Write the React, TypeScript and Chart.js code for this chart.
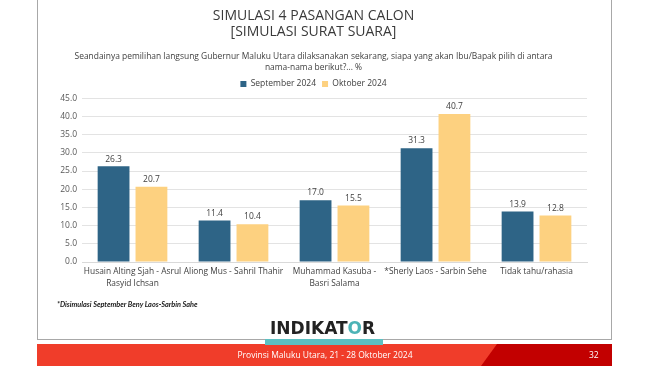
import React, { useEffect, useRef } from "react";
import { Chart, registerables } from "chart.js";

Chart.register(...registerables);

const categories: (string | string[])[] = [
  ["Husain Alting Sjah - Asrul", "Rasyid Ichsan"],
  "Aliong Mus - Sahril Thahir",
  ["Muhammad Kasuba -", "Basri Salama"],
  "*Sherly Laos - Sarbin Sehe",
  "Tidak tahu/rahasia",
];
const september = [26.3, 11.4, 17.0, 31.3, 13.9];
const oktober = [20.7, 10.4, 15.5, 40.7, 12.8];
const seriesNames = ["September 2024", "Oktober 2024"];
const titleLines = ["SIMULASI 4 PASANGAN CALON", "[SIMULASI SURAT SUARA]"];
const subtitleLines = [
  "Seandainya pemilihan langsung Gubernur Maluku Utara dilaksanakan sekarang, siapa yang akan Ibu/Bapak pilih di antara",
  "nama-nama berikut?... %",
];
const yMax = 45;
const yStep = 5;
const footnote = "*Disimulasi September Beny Laos-Sarbin Sahe";
const footerText = "Provinsi Maluku Utara, 21 - 28 Oktober 2024";
const pageNumber = "32";

const FONT = "'Open Sans', sans-serif";

const valueLabels = {
  id: "valueLabels",
  afterDatasetsDraw(chart: any) {
    const ctx = chart.ctx;
    ctx.save();
    ctx.font = `8.5px ${FONT}`;
    ctx.fillStyle = "#404040";
    ctx.textAlign = "center";
    ctx.textBaseline = "bottom";
    chart.data.datasets.forEach((ds: any, i: number) => {
      const meta = chart.getDatasetMeta(i);
      meta.data.forEach((bar: any, j: number) => {
        ctx.fillText(Number(ds.data[j]).toFixed(1), bar.x, bar.y - 3);
      });
    });
    ctx.restore();
  },
};

export default function App() {
  const ref = useRef<HTMLCanvasElement>(null);

  useEffect(() => {
    document.body.style.margin = "0";
    const chart = new Chart(ref.current!, {
      type: "bar",
      data: {
        labels: categories,
        datasets: [
          {
            label: seriesNames[0],
            data: september,
            backgroundColor: "#2E6486",
            categoryPercentage: 0.75,
            barPercentage: 0.84,
          },
          {
            label: seriesNames[1],
            data: oktober,
            backgroundColor: "#FDD180",
            categoryPercentage: 0.75,
            barPercentage: 0.84,
          },
        ],
      },
      options: {
        responsive: false,
        animation: false,
        layout: { padding: { left: 40, right: 63, top: 0, bottom: 72 } },
        plugins: {
          title: {
            display: true,
            text: titleLines,
            color: "#3A3A3A",
            font: { family: FONT, size: 14, weight: "normal", lineHeight: 1.15 },
            padding: { top: 8, bottom: 6 },
          },
          subtitle: {
            display: true,
            text: subtitleLines,
            color: "#404040",
            font: { family: FONT, size: 8.45, lineHeight: 1.38 },
            padding: { top: 4.3, bottom: 0 },
          },
          legend: {
            display: true,
            labels: {
              boxWidth: 6,
              boxHeight: 6,
              padding: 6,
              color: "#404040",
              font: { family: FONT, size: 8.5 },
            },
          },
          tooltip: { enabled: false },
        },
        scales: {
          x: {
            grid: { display: false, drawTicks: false },
            border: { color: "#D9D9D9" },
            ticks: {
              color: "#404040",
              font: { family: FONT, size: 8.4, lineHeight: 1.4 },
              maxRotation: 0,
              autoSkip: false,
              padding: 4,
            },
            afterFit: (s: any) => {
              s.height = 32;
            },
          },
          y: {
            min: 0,
            max: yMax,
            grid: { color: "#E3E3E3", drawTicks: false },
            border: { display: false },
            ticks: {
              stepSize: yStep,
              color: "#595959",
              font: { family: FONT, size: 8.5 },
              padding: 5,
              callback: (v: any) => Number(v).toFixed(1),
            },
            afterFit: (s: any) => {
              s.width = 42;
            },
          },
        },
      },
      plugins: [valueLabels],
    });
    return () => chart.destroy();
  }, []);

  return (
    <div
      style={{
        position: "fixed",
        left: 0,
        top: 0,
        width: 650,
        height: 366,
        background: "#fff",
        overflow: "hidden",
        fontFamily: FONT,
      }}
    >
      {/* frame */}
      <div style={{ position: "absolute", left: 37, top: 0, width: 1, height: 340, background: "#A8A8A8" }} />
      <div style={{ position: "absolute", left: 611, top: 0, width: 1, height: 340, background: "#A8A8A8" }} />
      <div style={{ position: "absolute", left: 37, top: 339, width: 575, height: 1, background: "#A8A8A8" }} />
      <canvas ref={ref} width={650} height={366} style={{ position: "absolute", left: 0, top: 0 }} />
      <div
        style={{
          position: "absolute",
          left: 57,
          top: 299,
          fontFamily: "Lato, sans-serif",
          fontSize: 7.3,
          fontWeight: 700,
          fontStyle: "italic",
          color: "#1A1A1A",
          whiteSpace: "nowrap",
          lineHeight: "12px",
        }}
      >
        {footnote}
      </div>
      {/* footer */}
      <div style={{ position: "absolute", left: 37, top: 344, width: 575, height: 22, background: "#F03D2A" }} />
      <div
        style={{
          position: "absolute",
          left: 37,
          top: 344,
          width: 575,
          height: 22,
          background: "#C20000",
          clipPath: "polygon(460px 0, 575px 0, 575px 22px, 444px 22px)",
        }}
      />
      <div
        style={{
          position: "absolute",
          left: 0,
          width: 650,
          top: 348,
          textAlign: "center",
          color: "#fff",
          fontSize: 8.5,
          lineHeight: "14px",
          whiteSpace: "nowrap",
        }}
      >
        {footerText}
      </div>
      <div
        style={{
          position: "absolute",
          left: 589,
          top: 348,
          color: "#fff",
          fontSize: 8.5,
          lineHeight: "14px",
        }}
      >
        {pageNumber}
      </div>
      {/* logo */}
      <div style={{ position: "absolute", left: 265, top: 339, width: 118, height: 6, background: "#5CC0C2" }} />
      <div
        style={{
          position: "absolute",
          left: 270,
          top: 317,
          fontFamily: "'DejaVu Sans', sans-serif",
          fontWeight: 700,
          fontSize: 17,
          lineHeight: "22px",
          color: "#222",
          whiteSpace: "nowrap",
        }}
      >
        INDIKAT<span style={{ color: "#4CB3B6" }}>O</span>R
      </div>
    </div>
  );
}
